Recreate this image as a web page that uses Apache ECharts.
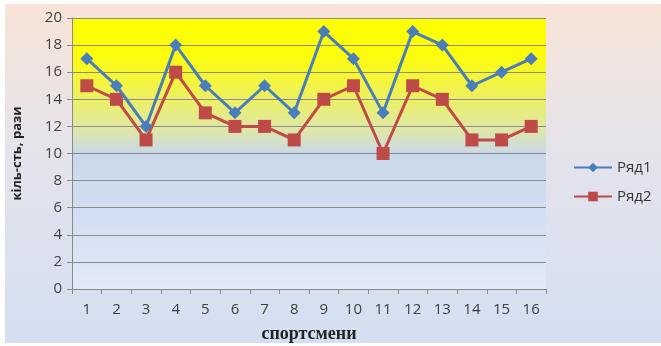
<!DOCTYPE html>
<html>
<head>
<meta charset="utf-8">
<script src="https://cdn.jsdelivr.net/npm/echarts@6/dist/echarts.min.js"></script>
<style>
  html, body { margin: 0; padding: 0; background: #ffffff; }
  #wrap { position: absolute; left: 5px; top: 4px; width: 656px; height: 339px;
          background: linear-gradient(to bottom, #f8e4d8 0%, #e4e3ec 45%, #d4dff1 100%); }
  #chart { width: 656px; height: 339px; }
</style>
</head>
<body>
<div id="wrap"><div id="chart"></div></div>
<script>
// Athletes 1..16
const categories = ['1','2','3','4','5','6','7','8','9','10','11','12','13','14','15','16'];
// First series (Ряд1)
const series1 = [17, 15, 12, 18, 15, 13, 15, 13, 19, 17, 13, 19, 18, 15, 16, 17];
// Second series (Ряд2)
const series2 = [15, 14, 11, 16, 13, 12, 12, 11, 14, 15, 10, 15, 14, 11, 11, 12];
const seriesNames = ['Ряд1', 'Ряд2'];
const yTicks = [0, 2, 4, 6, 8, 10, 12, 14, 16, 18, 20];

const chart = echarts.init(document.getElementById('chart'), null, { renderer: 'canvas' });

const labelFont = '"Open Sans", "Noto Sans", sans-serif';

chart.setOption({
  backgroundColor: 'transparent',
  animation: false,
  grid: {
    left: 67, top: 14, width: 474, height: 271,
    outerBoundsMode: 'none',
    containLabel: false,
    show: true,
    borderWidth: 0,
    backgroundColor: new echarts.graphic.LinearGradient(0, 0, 0, 1, [
      { offset: 0.00, color: '#ffff00' },
      { offset: 0.14, color: '#fcfc0c' },
      { offset: 0.28, color: '#eff158' },
      { offset: 0.41, color: '#dfe7a6' },
      { offset: 0.50, color: '#c9d8ea' },
      { offset: 0.75, color: '#d3dff2' },
      { offset: 1.00, color: '#e3eaf6' }
    ])
  },
  legend: {
    orient: 'vertical',
    left: 563, top: 151,
    itemWidth: 38, itemHeight: 12,
    itemGap: 14,
    textStyle: { fontFamily: labelFont, fontSize: 15, color: '#333333' },
    data: seriesNames
  },
  xAxis: {
    type: 'category',
    data: categories,
    boundaryGap: true,
    name: 'спортсмени',
    nameLocation: 'middle',
    nameGap: 36,
    nameTextStyle: { fontFamily: '"Liberation Serif", "DejaVu Serif", serif', fontWeight: 'bold', fontSize: 18, color: '#222222' },
    axisLine: { lineStyle: { color: '#8a8a8a', width: 1 } },
    axisTick: { show: true, length: 5, lineStyle: { color: '#8a8a8a' } },
    axisLabel: { fontFamily: labelFont, fontSize: 15, color: '#404040', margin: 13 },
    splitLine: { show: false }
  },
  yAxis: {
    type: 'value',
    min: 0, max: 20, interval: 2,
    name: 'кіль-сть, рази',
    nameLocation: 'middle',
    nameGap: 48,
    nameTextStyle: { fontFamily: labelFont, fontWeight: 'bold', fontSize: 13, color: '#222222' },
    axisLine: { show: true, lineStyle: { color: '#8a8a8a', width: 1 } },
    axisTick: { show: true, length: 5, lineStyle: { color: '#8a8a8a' } },
    axisLabel: { fontFamily: labelFont, fontSize: 15, color: '#404040', margin: 10,
                 formatter: v => yTicks.includes(v) ? String(v) : '' },
    splitLine: { show: true, lineStyle: { color: '#8c8c8c', width: 1 } }
  },
  series: [
    {
      name: seriesNames[0],
      type: 'line',
      data: series1,
      symbol: 'diamond',
      symbolSize: 13,
      lineStyle: { color: '#4a7ebb', width: 3 },
      itemStyle: { color: '#4a7ebb' },
      z: 3
    },
    {
      name: seriesNames[1],
      type: 'line',
      data: series2,
      symbol: 'rect',
      symbolSize: 13,
      lineStyle: { color: '#be4b48', width: 3 },
      itemStyle: { color: '#be4b48' },
      z: 2
    }
  ]
});
</script>
</body>
</html>
